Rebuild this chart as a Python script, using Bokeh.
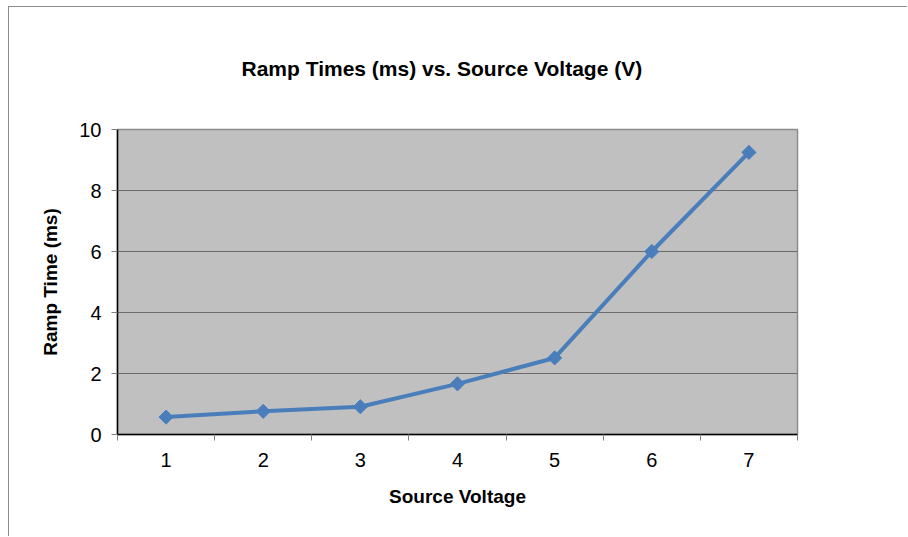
import math
from bokeh.plotting import figure
from bokeh.models import Range1d, FixedTicker
from bokeh.embed import file_html
from bokeh.resources import INLINE

voltages = [1, 2, 3, 4, 5, 6, 7]
ramp_times = [0.57, 0.76, 0.91, 1.66, 2.51, 6.0, 9.25]
y_ticks = [0, 2, 4, 6, 8, 10]
x_labels = ["1", "2", "3", "4", "5", "6", "7"]
title_text = "Ramp Times (ms) vs.  Source Voltage (V)"

FONT = "Liberation Sans"
BLUE = "#4A7EBB"

p = figure(width=899, height=530, output_backend="svg", toolbar_location=None,
           x_range=Range1d(0.5, 7.5), y_range=Range1d(0, 10),
           min_border_left=108, min_border_right=111, min_border_top=122, min_border_bottom=103)

p.title.text = title_text
p.title.align = "left"
p.title.offset = 124
p.title.vertical_align = "top"
p.title.standoff = 96
p.title.text_font = FONT
p.title.text_font_size = "21px"
p.title.text_font_style = "bold"
p.title.text_color = "black"

p.background_fill_color = "#C0C0C0"
p.border_fill_color = "white"
p.outline_line_color = "#8c8c8c"
p.outline_line_width = 1.5
p.styles = {"margin-left": "8px", "margin-top": "6px",
            "border-left": "1px solid #8c8c8c", "border-top": "1px solid #8c8c8c"}

p.xgrid.grid_line_color = None
p.ygrid.grid_line_color = "#6b6b6b"
p.ygrid.grid_line_width = 1
p.ygrid.ticker = FixedTicker(ticks=y_ticks)

# x axis
p.xaxis.ticker = FixedTicker(ticks=voltages, minor_ticks=[v - 0.5 for v in voltages] + [7.5])
p.xaxis.major_label_overrides = {v: l for v, l in zip(voltages, x_labels)}
p.xaxis.major_tick_out = 0
p.xaxis.major_tick_in = 0
p.xaxis.minor_tick_out = 6
p.xaxis.minor_tick_in = 0
p.xaxis.minor_tick_line_color = "#7f7f7f"
p.xaxis.axis_line_color = "black"
p.xaxis.axis_line_width = 1.5
p.xaxis.major_label_text_font = FONT
p.xaxis.major_label_text_font_size = "20px"
p.xaxis.major_label_text_color = "black"
p.xaxis.major_label_standoff = 12
p.xaxis.axis_label = "Source Voltage"
p.xaxis.axis_label_text_font = FONT
p.xaxis.axis_label_text_font_size = "19px"
p.xaxis.axis_label_text_font_style = "bold"
p.xaxis.axis_label_text_color = "black"
p.xaxis.axis_label_standoff = 16

# y axis
p.yaxis.ticker = FixedTicker(ticks=y_ticks)
p.yaxis.major_tick_out = 6
p.yaxis.major_tick_in = 0
p.yaxis.major_tick_line_color = "#7f7f7f"
p.yaxis.minor_tick_line_color = None
p.yaxis.axis_line_color = "black"
p.yaxis.axis_line_width = 1.5
p.yaxis.major_label_text_font = FONT
p.yaxis.major_label_text_font_size = "20px"
p.yaxis.major_label_text_color = "black"
p.yaxis.major_label_standoff = 10
p.yaxis.axis_label = "Ramp Time (ms)"
p.yaxis.axis_label_text_font = FONT
p.yaxis.axis_label_text_font_size = "19px"
p.yaxis.axis_label_text_font_style = "bold"
p.yaxis.axis_label_text_color = "black"
p.yaxis.axis_label_standoff = 15

p.line(voltages, ramp_times, line_color=BLUE, line_width=4)
p.scatter(voltages, ramp_times, marker="square", angle=math.pi / 4, size=10,
          fill_color=BLUE, line_color=BLUE)

open("out.html", "w").write(file_html(p, INLINE))
